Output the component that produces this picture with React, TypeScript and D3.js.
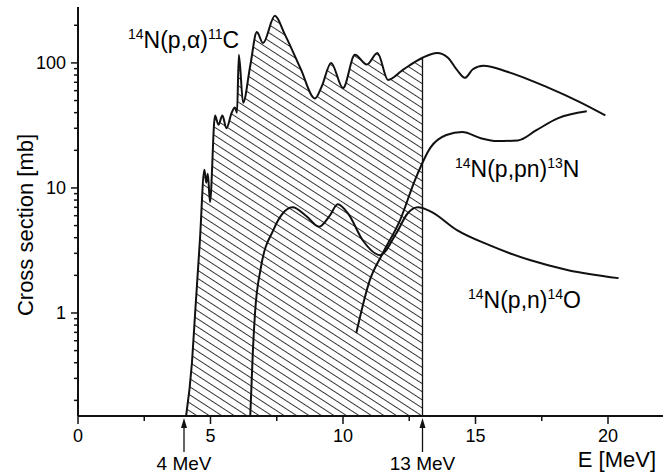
import React, { useEffect, useRef } from 'react';
import * as d3 from 'd3';

// 14N(p,alpha)11C
const alphaE = [4.08, 4.3, 4.42, 4.6, 4.77, 4.84, 4.9, 4.98, 5.17, 5.3, 5.45, 5.6, 5.8, 5.92, 6.0, 6.07, 6.23, 6.5, 6.75, 6.98, 7.43, 7.8, 8.4, 8.94, 9.2, 9.55, 10.0, 10.45, 10.9, 11.3, 11.7, 12.26, 13.0, 13.55, 13.96, 14.3, 14.6, 14.9, 15.3, 16.2, 17.7, 18.9, 19.9];
const alphaS = [0.15, 0.4, 1.0, 3.8, 14, 11, 13, 7.7, 38, 32, 38, 30, 40, 44, 40, 116, 48, 95, 177, 144, 238, 170, 90, 52, 65, 100, 63, 116, 97, 120, 73, 88, 110, 120, 110, 88, 76, 89, 95, 85, 64, 49, 38];

// 14N(p,n)14O
const nE = [6.5, 6.6, 6.68, 6.9, 7.37, 7.8, 8.1, 8.6, 9.1, 9.5, 9.8, 10.2, 10.75, 11.4, 12.0, 12.45, 12.83, 13.3, 14.3, 15.5, 17.05, 18.5, 20.4];
const nS = [0.15, 0.5, 1.0, 2.3, 4.6, 6.5, 7.0, 6.0, 4.9, 6.0, 7.4, 6.2, 3.8, 2.9, 4.3, 6.3, 7.0, 6.5, 4.6, 3.5, 2.65, 2.2, 1.9];

// 14N(p,pn)13N
const pnE = [10.5, 11.0, 11.5, 12.15, 12.72, 13.3, 13.9, 14.5, 15.2, 15.8, 16.6, 17.3, 18.1, 19.2];
const pnS = [0.69, 1.8, 3.0, 5.5, 11.6, 21, 26.5, 28, 25, 23.7, 24, 29, 36, 41];

const xTicks = [0, 5, 10, 15, 20];
const yTicks = [1, 10, 100];
const markers = [{ e: 4, label: '4 MeV' }, { e: 13, label: '13 MeV' }];
const hatchEnd = 13;

function CrossSections() {
  const svgRef = useRef(null);

  useEffect(() => {
    const svg = d3.select(svgRef.current);
    svg.selectAll('*').remove();

    const x = d3.scaleLinear().domain([0, 22]).range([78, 661]);
    const y = d3.scaleLog().domain([0.15, 280]).range([416, 7]);
    const font = 'Liberation Sans, Arial, sans-serif';

    const defs = svg.append('defs');
    const pat = defs.append('pattern')
      .attr('id', 'hatch')
      .attr('patternUnits', 'userSpaceOnUse')
      .attr('width', 6.8)
      .attr('height', 6.8)
      .attr('patternTransform', 'rotate(33)');
    pat.append('line')
      .attr('x1', 0).attr('x2', 6.8).attr('y1', 3.4).attr('y2', 3.4)
      .attr('stroke', '#333').attr('stroke-width', 1);

    const zip = (es, ss) => es.map((e, i) => ({ e, s: ss[i] }));
    const alpha = zip(alphaE, alphaS);
    const pn = zip(pnE, pnS);
    const n = zip(nE, nS);

    const line = d3.line().x(d => x(d.e)).y(d => y(d.s)).curve(d3.curveMonotoneX);
    const area = d3.area().x(d => x(d.e)).y0(y(0.15)).y1(d => y(d.s)).curve(d3.curveMonotoneX);

    svg.append('path')
      .datum(alpha.filter(d => d.e <= hatchEnd))
      .attr('d', area)
      .attr('fill', 'url(#hatch)');

    const endPt = alpha.find(d => d.e === hatchEnd);
    svg.append('line')
      .attr('x1', x(hatchEnd)).attr('x2', x(hatchEnd))
      .attr('y1', y(endPt.s)).attr('y2', y(0.15))
      .attr('stroke', '#111').attr('stroke-width', 1.3);

    [alpha, n, pn].forEach(d => {
      svg.append('path')
        .datum(d)
        .attr('d', line)
        .attr('fill', 'none')
        .attr('stroke', '#111')
        .attr('stroke-width', 2)
        .attr('stroke-linejoin', 'round');
    });

    // axes
    const xAxis = svg.append('g').attr('transform', `translate(0,${y(0.15)})`);
    xAxis.append('line').attr('x1', 78).attr('x2', 663).attr('stroke', '#111').attr('stroke-width', 2);
    d3.range(0, 22.6, 2.5).forEach(t => {
      const major = t % 5 === 0;
      xAxis.append('line')
        .attr('x1', x(t)).attr('x2', x(t))
        .attr('y1', 0).attr('y2', major ? 8 : 5)
        .attr('stroke', '#111').attr('stroke-width', 1.5);
    });
    xAxis.selectAll('text.tick')
      .data(xTicks)
      .join('text')
      .attr('x', d => x(d))
      .attr('y', 26)
      .attr('text-anchor', 'middle')
      .attr('font-family', font)
      .attr('font-size', 18)
      .text(d => d);

    const yAxis = svg.append('g').attr('transform', `translate(${x(0)},0)`);
    yAxis.append('line').attr('y1', y(0.15)).attr('y2', 7).attr('stroke', '#111').attr('stroke-width', 2);
    const minor = [];
    [0.1, 1, 10, 100].forEach(dec => {
      for (let k = 1; k <= 9; k++) {
        const v = dec * k;
        if (v >= 0.15 && v <= 280) minor.push(v);
      }
    });
    minor.forEach(v => {
      const major = yTicks.includes(v);
      yAxis.append('line')
        .attr('x1', major ? -7 : -4).attr('x2', 0)
        .attr('y1', y(v)).attr('y2', y(v))
        .attr('stroke', '#111').attr('stroke-width', 1.5);
    });
    yAxis.selectAll('text.tick')
      .data(yTicks)
      .join('text')
      .attr('x', -12)
      .attr('y', d => y(d))
      .attr('dy', '0.35em')
      .attr('text-anchor', 'end')
      .attr('font-family', font)
      .attr('font-size', 18)
      .text(d => d);

    svg.append('text')
      .attr('transform', 'translate(33,225) rotate(-90)')
      .attr('text-anchor', 'middle')
      .attr('font-family', font)
      .attr('font-size', 22)
      .text('Cross section [mb]');

    svg.append('text')
      .attr('x', 656).attr('y', 467)
      .attr('text-anchor', 'end')
      .attr('font-family', font)
      .attr('font-size', 22)
      .text('E [MeV]');

    // energy markers
    markers.forEach(m => {
      const g = svg.append('g').attr('transform', `translate(${x(m.e)},0)`);
      g.append('line').attr('y1', 452).attr('y2', 424).attr('stroke', '#111').attr('stroke-width', 1.3);
      g.append('path').attr('d', 'M0,418 L-3,428 L3,428 Z').attr('fill', '#111');
      g.append('text')
        .attr('y', 470)
        .attr('text-anchor', 'middle')
        .attr('font-family', font)
        .attr('font-size', 19)
        .text(m.label);
    });

    // reaction labels
    const labels = [
      { x: 128, y: 48, parts: ['14', 'N(p,α)', '11', 'C'] },
      { x: 455, y: 177, parts: ['14', 'N(p,pn)', '13', 'N'] },
      { x: 468, y: 308, parts: ['14', 'N(p,n)', '14', 'O'] },
    ];
    labels.forEach(l => {
      const t = svg.append('text')
        .attr('x', l.x).attr('y', l.y)
        .attr('font-family', font)
        .attr('font-size', 23);
      l.parts.forEach((p, i) => {
        const sup = i % 2 === 0;
        t.append('tspan')
          .attr('font-size', sup ? 14 : 23)
          .attr('dy', sup ? -9 : 9)
          .text(p);
      });
    });
  }, []);

  return <svg ref={svgRef} width={666} height={474} style={{ position: 'absolute', left: 0, top: 0, background: '#fff' }} />;
}

export default function App() {
  return <CrossSections />;
}
